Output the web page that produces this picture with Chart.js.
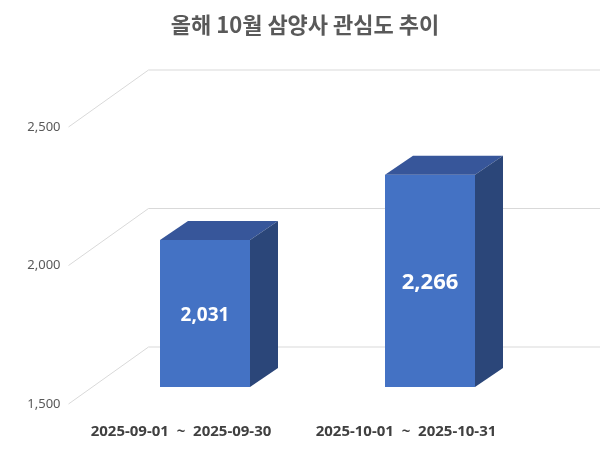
<!DOCTYPE html>
<html><head><meta charset="utf-8">
<script src="https://cdn.jsdelivr.net/npm/chart.js@4"></script>
<style>html,body{margin:0;padding:0;background:#fff}#w{width:600px;height:463px}</style>
</head><body><div id="w"><canvas id="c"></canvas></div>
<script>
const titleText = '올해 10월 삼양사 관심도 추이';
const categories = ['2025-09-01 ~ 2025-09-30', '2025-10-01 ~ 2025-10-31'];
const values = [2031, 2266];
const tickValues = [1500, 2000, 2500];

const FRONT = {dx: -24, dy: 17};   // bar plane -> front plane
const BACK = {dx: 56, dy: -40};    // bar plane -> back wall
const DEPTH = {dx: 28, dy: -19};   // bar depth

const plugin = {
  id: 'fake3d',
  beforeDatasetsDraw(chart) {
    const ctx = chart.ctx, y = chart.scales.y, a = chart.chartArea;
    ctx.save();
    ctx.strokeStyle = '#d9d9d9'; ctx.lineWidth = 1;
    tickValues.forEach(v => {
      const py = y.getPixelForValue(v);
      const fx = a.left + FRONT.dx, fy = py + FRONT.dy;
      const bx = a.left + BACK.dx, by = py + BACK.dy;
      ctx.beginPath(); ctx.moveTo(fx, fy); ctx.lineTo(bx, by); ctx.lineTo(600, by); ctx.stroke();
      ctx.fillStyle = '#595959'; ctx.font = '13px "Noto Sans", sans-serif';
      ctx.textAlign = 'right'; ctx.textBaseline = 'middle';
      ctx.fillText(v.toLocaleString('en-US'), fx - 8, fy);
    });
    ctx.fillStyle = '#595959'; ctx.font = 'bold 22px "Noto Sans CJK KR", sans-serif';
    ctx.textAlign = 'center'; ctx.textBaseline = 'middle';
    ctx.fillText(titleText, 305, 25);
    ctx.restore();
  },
  afterDatasetsDraw(chart) {
    const ctx = chart.ctx, meta = chart.getDatasetMeta(0), a = chart.chartArea;
    ctx.save();
    meta.data.forEach((bar, i) => {
      const L = bar.x - bar.width / 2, R = bar.x + bar.width / 2, T = bar.y, B = a.bottom;
      ctx.fillStyle = '#37569a';
      ctx.beginPath(); ctx.moveTo(L, T); ctx.lineTo(R, T); ctx.lineTo(R + DEPTH.dx, T + DEPTH.dy); ctx.lineTo(L + DEPTH.dx, T + DEPTH.dy); ctx.closePath(); ctx.fill();
      ctx.fillStyle = '#2b4679';
      ctx.beginPath(); ctx.moveTo(R, T); ctx.lineTo(R + DEPTH.dx, T + DEPTH.dy); ctx.lineTo(R + DEPTH.dx, B + DEPTH.dy); ctx.lineTo(R, B); ctx.closePath(); ctx.fill();
      ctx.fillStyle = '#ffffff'; ctx.font = 'bold ' + (i === 1 ? 22 : 19) + 'px "Noto Sans", sans-serif';
      ctx.textAlign = 'center'; ctx.textBaseline = 'middle';
      ctx.fillText(values[i].toLocaleString('en-US'), bar.x, (T + B) / 2 + 2);
      ctx.fillStyle = '#404040'; ctx.font = 'bold 15px "Noto Sans", sans-serif';
      ctx.fillText(categories[i].replace(' ~ ', '  ~  '), bar.x + FRONT.dx, a.bottom + FRONT.dy + 28);
    });
    ctx.restore();
  }
};

new Chart(document.getElementById('c'), {
  type: 'bar',
  data: {labels: categories, datasets: [{data: values, backgroundColor: '#4472c4', borderWidth: 0, barPercentage: 0.4, categoryPercentage: 1}]},
  options: {
    responsive: true, maintainAspectRatio: false, animation: false,
    layout: {padding: {top: 110, bottom: 76, left: 92.5, right: 57.5}},
    plugins: {legend: {display: false}, tooltip: {enabled: false}},
    scales: {
      x: {display: false},
      y: {display: false, min: 1500, max: 2500}
    }
  },
  plugins: [plugin]
});
</script></body></html>
